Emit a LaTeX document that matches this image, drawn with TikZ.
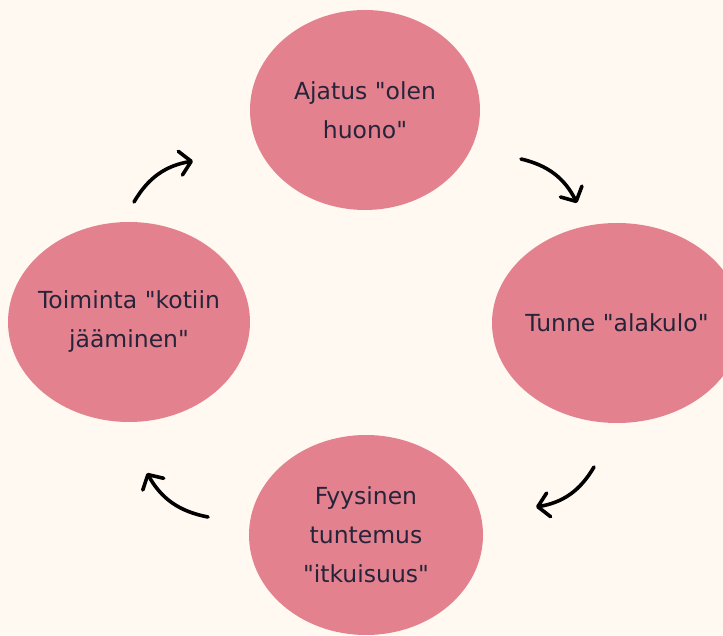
\documentclass[tikz,border=0pt]{standalone}
\usepackage{fontspec}
\newfontfamily\blobfont{DejaVu Sans}
\usetikzlibrary{shapes.geometric,arrows.meta}
\definecolor{bgcream}{HTML}{FFF9F1}
\definecolor{blobpink}{HTML}{E3828E}
\definecolor{inktext}{HTML}{26243A}
\tikzset{
  blob/.style={ellipse, fill=blobpink, draw=none, inner sep=-40pt, align=center,
    text=inktext, font=\blobfont\fontsize{23.5}{39}\selectfont},
  cyclearrow/.style={line width=3.6pt, line cap=round, line join=round,
    -{Straight Barb[length=11pt,width=24pt,line cap=round,line join=round]}, bend left=25}
}
\begin{document}
\begin{tikzpicture}[x=1pt,y=1pt]
\fill[bgcream] (0,0) rectangle (723,635);
\useasboundingbox (0,0) rectangle (723,635);
\node[blob, minimum width=230pt, minimum height=200pt] (thought) at (365,525) {Ajatus "olen\\huono"};
\node[blob, minimum width=250pt, minimum height=200pt] (feeling) at (617,312) {Tunne "alakulo"};
\node[blob, minimum width=234pt, minimum height=200pt] (body) at (366,100) {Fyysinen\\tuntemus\\"itkuisuus"};
\node[blob, minimum width=242pt, minimum height=200pt] (action) at (129,313) {Toiminta "kotiin\\jääminen"};
\coordinate (a1s) at (134,433); \coordinate (a1e) at (193,474);
\coordinate (a2s) at (521,476); \coordinate (a2e) at (577,432);
\coordinate (a3s) at (594,168); \coordinate (a3e) at (536,128);
\coordinate (a4s) at (208,118); \coordinate (a4e) at (147,162);
\draw[cyclearrow] (a1s) to (a1e);
\draw[cyclearrow] (a2s) to (a2e);
\draw[cyclearrow] (a3s) to (a3e);
\draw[cyclearrow] (a4s) to (a4e);
\end{tikzpicture}
\end{document}
